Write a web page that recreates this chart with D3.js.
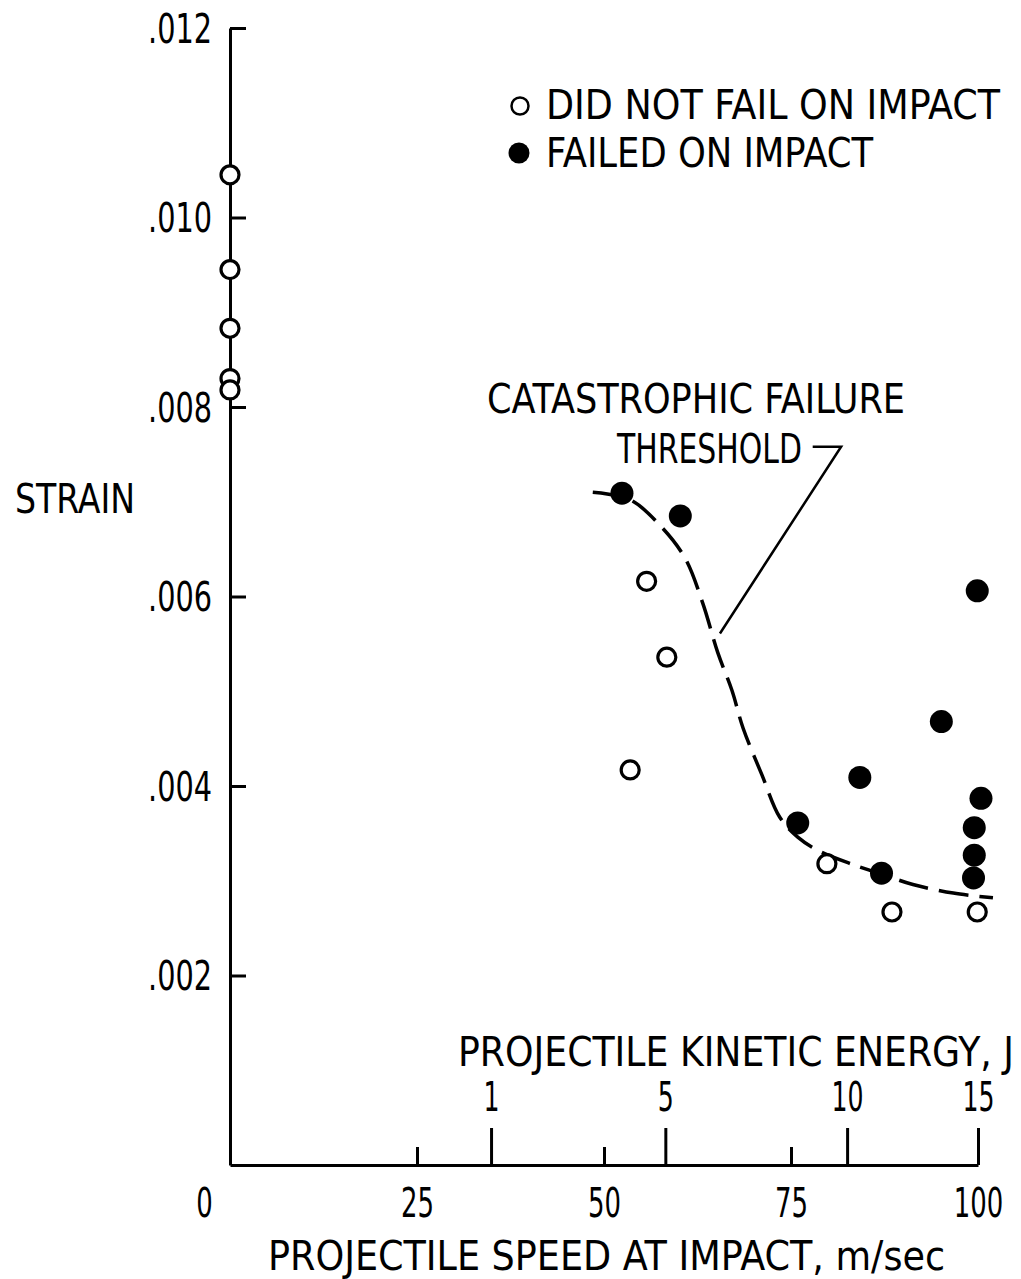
<!DOCTYPE html>
<html>
<head>
<meta charset="utf-8">
<script src="https://cdn.jsdelivr.net/npm/d3@7"></script>
<style>
  html, body { margin: 0; padding: 0; background: #fff; }
  svg { display: block; }
  text { font-family: "DejaVu Sans Condensed", "DejaVu Sans", sans-serif; font-stretch: condensed; fill: #000; }
</style>
</head>
<body>
<svg id="chart" width="1021" height="1279"></svg>
<script>
// ---------------- data ----------------
const strainTicks = [0.002, 0.004, 0.006, 0.008, 0.010, 0.012];
const speedTicks = [25, 50, 75];
const speedLabels = [0, 25, 50, 75, 100];
const energyLabels = ["1", "5", "10", "15"];
const energyTickSpeeds = [34.9, 58.2, 82.5, 100];

// did not fail on impact (open circles)
const notFailedSpeed  = [0, 0, 0, 0, 0, 55.7, 58.4, 53.5, 79.8, 88.5, 99.9];
const notFailedStrain = [0.01045, 0.00945, 0.00883, 0.00830, 0.00818, 0.00616, 0.00536, 0.00417, 0.00318, 0.00267, 0.00267];

// failed on impact (filled circles)
const failedSpeed  = [52.4, 60.2, 99.9, 95.1, 84.2, 100.4, 99.5, 99.5, 99.4, 75.9, 87.1];
const failedStrain = [0.00709, 0.00685, 0.00606, 0.00468, 0.00409, 0.00387, 0.00356, 0.00327, 0.00303, 0.00361, 0.00308];

// catastrophic failure threshold (dashed curve)
const thresholdSpeed  = [48.5, 53.5, 57.5, 60.8, 63.2, 65.2, 67.1, 68.6, 71.1, 73.5, 75.9, 78.6, 83.3, 88.2, 91.3, 96.7, 102.0];
const thresholdStrain = [0.00710, 0.00702, 0.00675, 0.00641, 0.00593, 0.00541, 0.00501, 0.00461, 0.00412, 0.00367, 0.00346, 0.00332, 0.00317, 0.00304, 0.00296, 0.00287, 0.00282];

// leader line of the annotation (speed, strain)
const leaderSpeed  = [77.9, 81.7, 65.5];
const leaderStrain = [0.00758, 0.00758, 0.00561];

// ---------------- chart ----------------
const svg = d3.select("#chart");
const x = d3.scaleLinear().domain([0, 100]).range([230, 978]);
const y = d3.scaleLinear().domain([0, 0.012]).range([1165, 28]);
const FS = 40;
const FONT = '"DejaVu Sans Condensed", "DejaVu Sans", sans-serif';

function styleAxis(g) {
  g.selectAll("path.domain").attr("stroke", "#000").attr("stroke-width", 3);
  g.selectAll(".tick line").attr("stroke", "#000").attr("stroke-width", 3);
  g.selectAll("text").attr("font-size", FS).attr("fill", "#000")
    .style("font-family", FONT).style("font-stretch", "condensed");
}
function fitText(sel, widthFn) {
  sel.each(function (d) {
    const w = widthFn(d, this.textContent);
    if (w) d3.select(this).attr("textLength", w).attr("lengthAdjust", "spacingAndGlyphs");
  });
}

// Y axis (ticks pointing right)
const yAxis = svg.append("g").attr("transform", `translate(${x(0)},0)`)
  .call(d3.axisLeft(y).tickValues(strainTicks).tickSizeInner(-16).tickSizeOuter(0).tickPadding(18)
    .tickFormat(d => d3.format(".3f")(d).replace(/^0/, "")));
styleAxis(yAxis);
yAxis.selectAll("text").attr("dy", "0.36em");
fitText(yAxis.selectAll("text"), () => 64);

// X axis: line + small speed ticks pointing up
const xAxis = svg.append("g").attr("transform", `translate(0,${y(0)})`)
  .call(d3.axisBottom(x).tickValues(speedTicks).tickSizeInner(-18).tickSizeOuter(0).tickFormat(""));
styleAxis(xAxis);

// X speed labels
const xLab = svg.append("g").attr("transform", `translate(0,${y(0)})`)
  .call(d3.axisBottom(x).tickValues(speedLabels).tickSize(0).tickFormat(d3.format("d")));
styleAxis(xLab);
xLab.select("path.domain").remove();
xLab.selectAll("text").attr("y", 52).attr("dy", null)
  .attr("dx", d => d === 0 ? -26 : 0);
fitText(xLab.selectAll("text"), (d, t) => t.length * 16.5);

// Energy axis (tall ticks pointing up, labels above)
const eAxis = svg.append("g").attr("transform", `translate(0,${y(0)})`)
  .call(d3.axisTop(x).tickValues(energyTickSpeeds).tickSize(37).tickPadding(17)
    .tickFormat((d, i) => energyLabels[i]));
styleAxis(eAxis);
eAxis.select("path.domain").remove();
eAxis.selectAll("text").attr("dy", null);
fitText(eAxis.selectAll("text"), (d, t) => t.length * 16);

// Threshold curve
const line = d3.line().x(d => x(d[0])).y(d => y(d[1])).curve(d3.curveCatmullRom.alpha(0.5));
svg.append("path")
  .datum(thresholdSpeed.map((s, i) => [s, thresholdStrain[i]]))
  .attr("d", line)
  .attr("fill", "none").attr("stroke", "#000").attr("stroke-width", 3.5)
  .attr("stroke-dasharray", "30,11");

// Leader line
svg.append("path")
  .datum(leaderSpeed.map((s, i) => [s, leaderStrain[i]]))
  .attr("d", d3.line().x(d => x(d[0])).y(d => y(d[1])))
  .attr("fill", "none").attr("stroke", "#000").attr("stroke-width", 2.5);

// Points
svg.append("g").selectAll("circle")
  .data(notFailedSpeed.map((s, i) => [s, notFailedStrain[i]]))
  .join("circle")
  .attr("cx", d => x(d[0])).attr("cy", d => y(d[1])).attr("r", 9)
  .attr("fill", "#fff").attr("stroke", "#000").attr("stroke-width", 3.2);

svg.append("g").selectAll("circle")
  .data(failedSpeed.map((s, i) => [s, failedStrain[i]]))
  .join("circle")
  .attr("cx", d => x(d[0])).attr("cy", d => y(d[1])).attr("r", 11.5)
  .attr("fill", "#000");

// Legend
svg.append("circle").attr("cx", 520).attr("cy", 106).attr("r", 8.5)
  .attr("fill", "#fff").attr("stroke", "#000").attr("stroke-width", 2.5);
svg.append("circle").attr("cx", 519).attr("cy", 153).attr("r", 10.5).attr("fill", "#000");

function label(txt, xx, yy, len) {
  const t = svg.append("text").attr("x", xx).attr("y", yy).attr("font-size", FS).text(txt);
  if (len) t.attr("textLength", len).attr("lengthAdjust", "spacingAndGlyphs");
  return t;
}
label("DID NOT FAIL ON IMPACT", 546, 119, 454);
label("FAILED ON IMPACT", 546, 167, 327);
label("CATASTROPHIC FAILURE", 487, 413, 418);
label("THRESHOLD", 617, 463, 185);
label("STRAIN", 15, 513, 120);
label("PROJECTILE KINETIC ENERGY, J", 458, 1066, 556);
label("PROJECTILE SPEED AT IMPACT, m/sec", 268, 1270, 677);
</script>
</body>
</html>
